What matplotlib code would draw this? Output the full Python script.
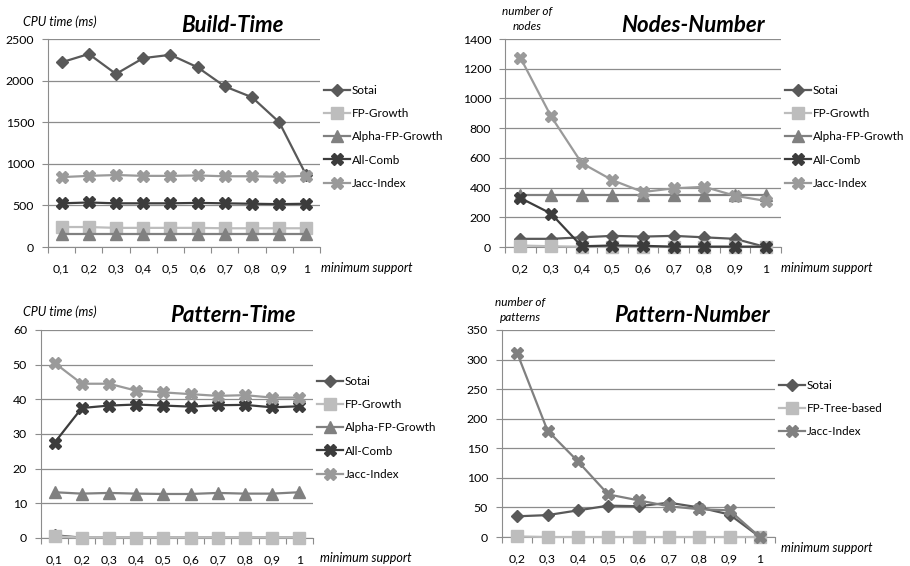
import matplotlib
matplotlib.use("Agg")
import matplotlib.pyplot as plt
import numpy as np

plt.rcParams["font.family"] = ["Lato", "DejaVu Sans"]

# ── data ────────────────────────────────────────────────────────────────
supp_10 = ["0,1", "0,2", "0,3", "0,4", "0,5", "0,6", "0,7", "0,8", "0,9", "1"]
supp_9 = ["0,2", "0,3", "0,4", "0,5", "0,6", "0,7", "0,8", "0,9", "1"]

build_sotai = [2220, 2320, 2080, 2270, 2310, 2160, 1930, 1800, 1500, 860]
build_fp = [240, 240, 230, 230, 230, 230, 225, 225, 225, 225]
build_alpha = [160, 160, 160, 160, 160, 160, 160, 160, 160, 160]
build_allcomb = [525, 535, 525, 525, 525, 530, 525, 520, 515, 520]
build_jacc = [840, 855, 865, 855, 855, 860, 850, 850, 845, 855]

nodes_sotai = [55, 55, 65, 75, 70, 75, 65, 55, 0]
nodes_fp = [10, 5, 2, 2, 2, 2, 2, 2, 2]
nodes_alpha = [350, 350, 350, 350, 350, 350, 350, 350, 350]
nodes_allcomb = [330, 225, 5, 10, 8, 2, 2, 2, 2]
nodes_jacc = [1275, 880, 565, 450, 370, 395, 405, 345, 310]

ptime_sotai = [0.8, 0.1, 0.1, 0.1, 0.1, 0.1, 0.1, 0.1, 0.1, 0.1]
ptime_fp = [0.5, 0.1, 0.1, 0.1, 0.1, 0.1, 0.1, 0.1, 0.1, 0.1]
ptime_alpha = [13.2, 12.8, 13.0, 12.8, 12.7, 12.7, 13.0, 12.8, 12.8, 13.2]
ptime_allcomb = [27.5, 37.5, 38.2, 38.5, 38.2, 37.9, 38.3, 38.4, 37.7, 38.0]
ptime_jacc = [50.5, 44.5, 44.5, 42.5, 42.0, 41.5, 41.0, 41.2, 40.5, 40.5]

pnum_sotai = [35, 37, 45, 53, 52, 58, 50, 38, 0]
pnum_fptree = [1, 0, 0, 0, 0, 0, 0, 0, 0]
pnum_jacc = [311, 180, 128, 72, 62, 52, 47, 45, 0]

# ── styles ──────────────────────────────────────────────────────────────
STY = {
    "Sotai": dict(color="#595959", marker="D", ms=6.5),
    "FP-Growth": dict(color="#bdbdbd", marker="s", ms=8),
    "FP-Tree-based": dict(color="#bdbdbd", marker="s", ms=8),
    "Alpha-FP-Growth": dict(color="#808080", marker="^", ms=8),
    "All-Comb": dict(color="#3c3c3c", marker="X", ms=8.5),
    "Jacc-Index": dict(color="#9a9a9a", marker="X", ms=8.5),
}

W, H = 910, 566
fig = plt.figure(figsize=(W / 100, H / 100), dpi=100)


def px_axes(x0, x1, ytop, ybot):
    return fig.add_axes([x0 / W, 1 - ybot / H, (x1 - x0) / W, (ybot - ytop) / H])


def panel(ax, cats, series, ymax, ystep, legend_y):
    x = np.arange(len(cats))
    for name, vals, *extra in series:
        st = STY[name]
        c = extra[0] if extra else st["color"]
        ax.plot(x, vals, color=c, lw=1.6, marker=st["marker"], ms=st["ms"],
                mec=c, mfc=c, label=name, clip_on=False, zorder=3)
    ax.set_xlim(-0.5, len(cats) - 0.5)
    ax.set_ylim(0, ymax)
    ax.set_yticks(np.arange(0, ymax + ystep / 2, ystep))
    ax.yaxis.grid(True, color="#8c8c8c", lw=0.9)
    ax.set_axisbelow(True)
    ax.set_xticks(np.arange(-0.5, len(cats), 1.0))
    ax.set_xticklabels([])
    ax.set_xticks(x, minor=True)
    ax.set_xticklabels(cats, minor=True)
    ax.tick_params(axis="x", which="major", length=4, color="#8c8c8c", direction="out")
    ax.tick_params(axis="x", which="minor", length=0, pad=12, labelsize=8.8)
    ax.tick_params(axis="y", length=4, color="#8c8c8c", labelsize=8.8, pad=6)
    for s in ("top", "right"):
        ax.spines[s].set_visible(False)
    for s in ("left", "bottom"):
        ax.spines[s].set_color("#8c8c8c")
    ax.legend(loc="center left", bbox_to_anchor=(1.0, legend_y), frameon=False,
              fontsize=8.4, handlelength=2.3, labelspacing=1.05,
              handletextpad=0.1, borderaxespad=0.0, borderpad=0.3)


# Build-Time
ax1 = px_axes(48, 320, 39, 247)
panel(ax1, supp_10, [("Sotai", build_sotai), ("FP-Growth", build_fp),
                     ("Alpha-FP-Growth", build_alpha), ("All-Comb", build_allcomb),
                     ("Jacc-Index", build_jacc)], 2500, 500, 0.53)
fig.text(232 / W, 1 - 25 / H, "Build-Time", ha="center", va="center",
         fontsize=16, fontweight="bold", style="italic")
fig.text(23 / W, 1 - 22 / H, "CPU time (ms)", ha="left", va="center",
         fontsize=9, style="italic")
fig.text(321 / W, 1 - 268 / H, "minimum support", ha="left", va="center",
         fontsize=9, style="italic")

# Nodes-Number
ax2 = px_axes(505, 781, 39, 247)
panel(ax2, supp_9, [("Sotai", nodes_sotai), ("FP-Growth", nodes_fp),
                    ("Alpha-FP-Growth", nodes_alpha), ("All-Comb", nodes_allcomb),
                    ("Jacc-Index", nodes_jacc)], 1400, 200, 0.53)
fig.text(693 / W, 1 - 25 / H, "Nodes-Number", ha="center", va="center",
         fontsize=16, fontweight="bold", style="italic")
fig.text(527 / W, 1 - 19 / H, "number of\nnodes", ha="center", va="center",
         fontsize=8.5, style="italic", linespacing=1.4)
fig.text(781 / W, 1 - 268 / H, "minimum support", ha="left", va="center",
         fontsize=9, style="italic")

# Pattern-Time
ax3 = px_axes(41, 313, 330, 538)
panel(ax3, supp_10, [("Sotai", ptime_sotai), ("FP-Growth", ptime_fp),
                     ("Alpha-FP-Growth", ptime_alpha), ("All-Comb", ptime_allcomb),
                     ("Jacc-Index", ptime_jacc)], 60, 10, 0.53)
fig.text(233 / W, 1 - 316 / H, "Pattern-Time", ha="center", va="center",
         fontsize=16, fontweight="bold", style="italic")
fig.text(23 / W, 1 - 312 / H, "CPU time (ms)", ha="left", va="center",
         fontsize=9, style="italic")
fig.text(320 / W, 1 - 558 / H, "minimum support", ha="left", va="center",
         fontsize=9, style="italic")

# Pattern-Number
ax4 = px_axes(502, 775, 330, 537)
panel(ax4, supp_9, [("Sotai", pnum_sotai), ("FP-Tree-based", pnum_fptree),
                    ("Jacc-Index", pnum_jacc, "#808080")], 350, 50, 0.62)
fig.text(692 / W, 1 - 316 / H, "Pattern-Number", ha="center", va="center",
         fontsize=16, fontweight="bold", style="italic")
fig.text(520 / W, 1 - 310 / H, "number of\npatterns", ha="center", va="center",
         fontsize=8.5, style="italic", linespacing=1.4)
fig.text(781 / W, 1 - 548 / H, "minimum support", ha="left", va="center",
         fontsize=9, style="italic")

fig.savefig("out.png", dpi=100, facecolor="white")
